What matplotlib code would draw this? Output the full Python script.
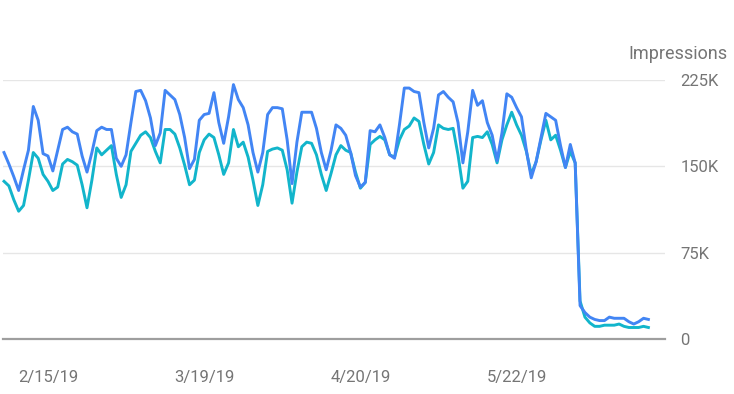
import matplotlib
matplotlib.use("Agg")
import matplotlib.pyplot as plt
import pandas as pd

plt.rcParams['font.family'] = ['Roboto', 'DejaVu Sans']

start_date = "2019-02-06"
clicks_like = [  # blue series (thousands)
    162, 152, 141, 129, 147, 164, 202, 190, 161, 159, 146, 164, 182, 184, 180, 178, 159, 145, 162, 181,
    184, 182, 182, 157, 150, 160, 188, 215, 216, 207, 192, 168, 179, 216, 212, 208, 195, 175, 148, 156,
    190, 195, 196, 214, 188, 170, 193, 221, 208, 201, 186, 162, 145, 162, 195, 201, 201, 200, 173, 135,
    171, 197, 197, 197, 183, 162, 147, 164, 186, 183, 177, 162, 142, 132, 136, 181, 180, 186, 175, 160,
    157, 186, 218, 218, 215, 214, 188, 166, 183, 212, 215, 210, 206, 188, 153, 180, 216, 203, 207, 188,
    177, 155, 179, 213, 210, 201, 193, 164, 140, 154, 175, 196, 193, 190, 168, 149, 169, 153, 29, 23,
    19, 17, 16, 16, 19, 18, 18, 18, 15, 13, 15, 18, 17]
teal_series = [
    137, 133, 121, 111, 116, 138, 162, 157, 143, 137, 129, 132, 152, 156, 154, 151, 134, 114, 138, 166,
    160, 164, 168, 143, 123, 134, 163, 170, 177, 180, 175, 163, 153, 182, 182, 178, 166, 151, 134, 138,
    162, 173, 178, 175, 160, 143, 153, 182, 167, 171, 158, 138, 116, 134, 163, 165, 166, 164, 147, 118,
    145, 167, 171, 170, 160, 143, 129, 144, 160, 168, 164, 162, 145, 131, 136, 169, 173, 176, 173, 160,
    158, 173, 182, 185, 192, 189, 169, 152, 162, 186, 183, 182, 183, 160, 131, 137, 175, 176, 175, 180,
    169, 153, 173, 186, 197, 186, 177, 163, 143, 154, 173, 190, 173, 177, 164, 149, 163, 153, 33, 19,
    14, 11, 11, 12, 12, 12, 13, 11, 10, 10, 10, 11, 10]
y_ticks = [0, 75000, 150000, 225000]
y_tick_labels = ["0", "75K", "150K", "225K"]
x_tick_dates = ["2019-02-15", "2019-03-19", "2019-04-20", "2019-05-22"]
x_tick_labels = ["2/15/19", "3/19/19", "4/20/19", "5/22/19"]
axis_title = "Impressions"

dates = pd.date_range(start_date, periods=len(clicks_like), freq="D")
blue = [v * 1000 for v in clicks_like]
teal = [v * 1000 for v in teal_series]

W, H = 734, 394
fig = plt.figure(figsize=(W / 100, H / 100), dpi=100)
ax = fig.add_axes([3 / W, (H - 339) / H, (665 - 3) / W, (339 - 80) / H])

ax.plot(dates, teal, color="#12b5cb", lw=2.1, solid_joinstyle="round", clip_on=False, zorder=3)
ax.plot(dates, blue, color="#4285f4", lw=2.1, solid_joinstyle="round", clip_on=False, zorder=4)

ax.set_ylim(0, 225000)
x0 = dates[0] - pd.Timedelta(hours=5)
x1 = dates[-1] + pd.Timedelta(days=3.4)
ax.set_xlim(x0, x1)

ax.yaxis.tick_right()
ax.set_yticks(y_ticks)
ax.set_yticklabels(y_tick_labels)
ax.set_xticks(pd.to_datetime(x_tick_dates))
ax.set_xticklabels(x_tick_labels)
ax.tick_params(axis="y", length=0, pad=11, labelsize=12, labelcolor="#757575")
ax.tick_params(axis="x", length=0, pad=22, labelsize=12, labelcolor="#757575")

for v in y_ticks[1:]:
    ax.axhline(v, color="#e6e6e6", lw=1, zorder=1)

for s in ["top", "right", "left"]:
    ax.spines[s].set_visible(False)
ax.spines["bottom"].set_color("#9e9e9e")
ax.spines["bottom"].set_linewidth(1.6)

fig.text(728 / W, 1 - 54 / H, axis_title, ha="right", va="center",
         fontsize=13, color="#757575")

fig.savefig("out.png", dpi=100)
